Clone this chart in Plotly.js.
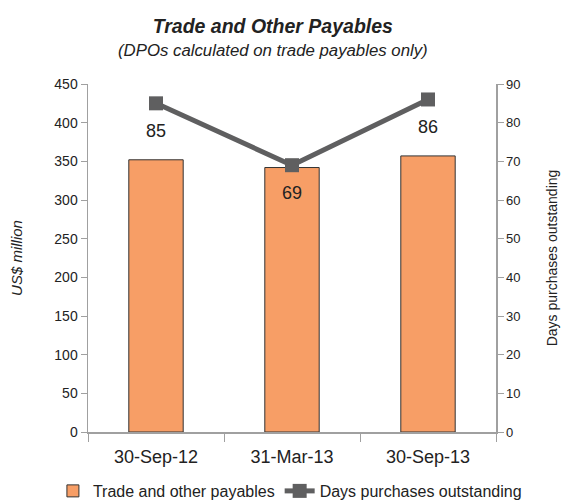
<!DOCTYPE html>
<html>
<head>
<meta charset="utf-8">
<script src="https://cdn.plot.ly/plotly-3.0.1.min.js"></script>
<style>html,body{margin:0;padding:0;background:#fff;}#chart{width:564px;height:503px;}</style>
</head>
<body>
<div id="chart"></div>
<script>
const categories = ["30-Sep-12", "31-Mar-13", "30-Sep-13"];
const payables = [352, 342, 357];
const dpo = [85, 69, 86];
const barName = "Trade and other payables";
const lineName = "Days purchases outstanding";
const titleText = "Trade and Other Payables";
const subtitleText = "(DPOs calculated on trade payables only)";

const FONT = "Liberation Sans, Arial, sans-serif";

const traces = [
  {
    type: "bar", x: categories, y: payables, name: barName,
    width: 0.4,
    marker: {color: "#F79E66", line: {color: "#333333", width: 1}},
    hoverinfo: "x+y"
  },
  {
    type: "scatter", mode: "lines+markers", x: categories, y: dpo, yaxis: "y2",
    name: lineName,
    line: {color: "#5F5F60", width: 5},
    marker: {symbol: "square", size: 14, color: "#5F5F60"}
  }
];

const annotations = categories.map((c, i) => ({
  x: c, y: dpo[i], xref: "x", yref: "y2", text: String(dpo[i]),
  showarrow: false, yshift: -28, font: {family: FONT, size: 18, color: "#222"}
}));
annotations.push({
  text: "<i>" + subtitleText + "</i>", xref: "paper", yref: "paper",
  x: 0.453, y: 1.0977, xanchor: "center", yanchor: "middle", showarrow: false,
  font: {family: FONT, size: 16.8, color: "#222"}
});

const layout = {
  width: 564, height: 503,
  margin: {l: 88, r: 68, t: 84, b: 71, autoexpand: false},
  paper_bgcolor: "#fff", plot_bgcolor: "#fff",
  font: {family: FONT, color: "#222"},
  title: {
    text: "<b><i>" + titleText + "</i></b>",
    font: {family: FONT, size: 19.5, color: "#222"},
    x: 0.453, xanchor: "center", xref: "paper",
    y: 1 - 26 / 503, yanchor: "middle", yref: "container"
  },
  showlegend: true,
  legend: {orientation: "h", xref: "paper", yref: "paper",
    x: -0.086, xanchor: "left", y: -0.1695, yanchor: "middle",
    font: {family: FONT, size: 16, color: "#222"}, traceorder: "normal", itemwidth: 30,
    tracegroupgap: 0, bgcolor: "rgba(0,0,0,0)"},
  xaxis: {
    type: "category", range: [-0.5, 2.5], showgrid: false, zeroline: false,
    showline: true, linecolor: "#A0A0A0", linewidth: 1.5,
    ticks: "outside", tickson: "boundaries", ticklen: 8, tickcolor: "#A0A0A0",
    ticklabelstandoff: 8,
    tickfont: {family: FONT, size: 18, color: "#222"}
  },
  yaxis: {
    range: [0, 450], dtick: 50, showgrid: false, zeroline: false,
    showline: true, linecolor: "#A0A0A0", linewidth: 1.5,
    ticks: "outside", ticklen: 6, tickcolor: "#A0A0A0",
    tickfont: {family: FONT, size: 14, color: "#222"},
    title: {text: "<i>US$ million</i>", font: {family: FONT, size: 15, color: "#222"}, standoff: 28}
  },
  yaxis2: {
    range: [0, 90], dtick: 10, overlaying: "y", side: "right", showgrid: false, zeroline: false,
    showline: true, linecolor: "#A0A0A0", linewidth: 1.5,
    ticks: "outside", ticklen: 6, tickcolor: "#A0A0A0",
    tickfont: {family: FONT, size: 13, color: "#222"},
    title: {text: "Days purchases outstanding", font: {family: FONT, size: 14, color: "#222"}, standoff: 27}
  },
  annotations: annotations
};

Plotly.newPlot("chart", traces, layout, {displayModeBar: false, staticPlot: true});
</script>
</body>
</html>
